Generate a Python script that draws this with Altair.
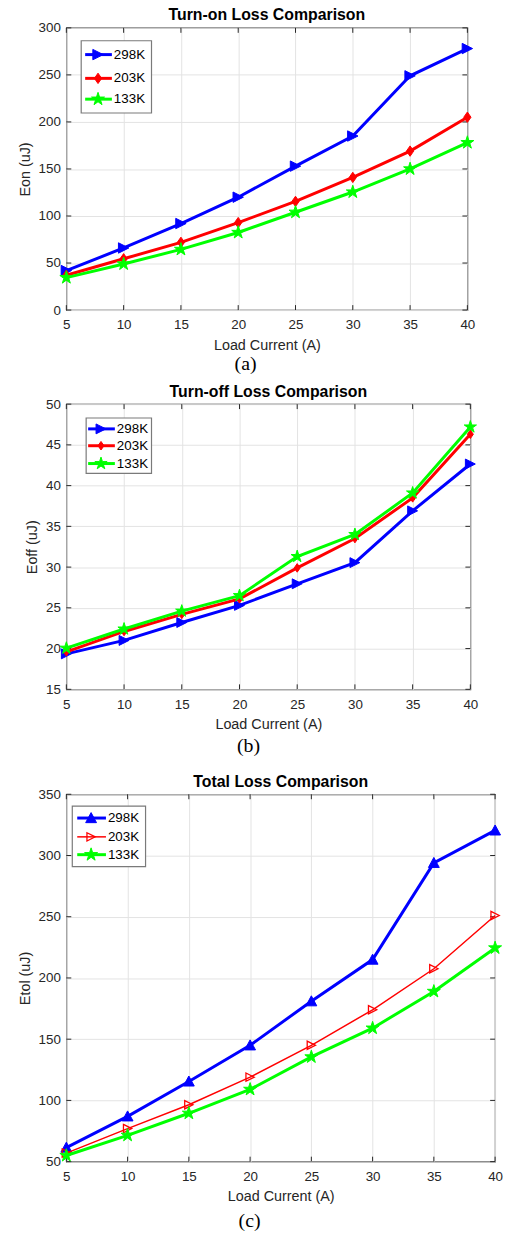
import altair as alt
import pandas as pd

# ---------------- data ----------------
current = [5, 10, 15, 20, 25, 30, 35, 40]
series_names = ["298K", "203K", "133K"]

eon_298 = [42, 66, 92, 120, 153, 185, 249, 278]
eon_203 = [37, 54.5, 72, 93, 115.5, 141, 169, 205]
eon_133 = [34.5, 49, 64.5, 82.5, 104, 125.5, 150, 178]

eoff_298 = [19.35, 21.0, 23.2, 25.3, 27.95, 30.55, 36.9, 42.65]
eoff_203 = [19.6, 22.1, 24.2, 26.1, 29.9, 33.5, 38.5, 46.3]
eoff_133 = [20.05, 22.4, 24.6, 26.5, 31.3, 34.0, 39.1, 47.2]

etol_298 = [61.5, 87, 115.5, 145, 181, 215, 294, 320.5]
etol_203 = [57, 77, 96.5, 119, 145, 174, 207.5, 251]
etol_133 = [55, 71.5, 89.5, 109, 135.5, 159, 189, 224.5]

x_ticks = [5, 10, 15, 20, 25, 30, 35, 40]
eon_ticks = [0, 50, 100, 150, 200, 250, 300]
eoff_ticks = [15, 20, 25, 30, 35, 40, 45, 50]
etol_ticks = [50, 100, 150, 200, 250, 300, 350]

# ---------------- styles ----------------
FONT = "Liberation Sans"
DARK = "#262626"
BLUE, RED, GREEN = "#0000FF", "#FF0000", "#00FF00"

TRI_RIGHT = "M-1,-1L1,0L-1,1Z"
TRI_UP = "M0,-1L1,0.85L-1,0.85Z"
DIAMOND = "M0,-1L0.7,0L0,1L-0.7,0Z"
STAR = ("M0,-1L0.2245,-0.309L0.951,-0.309L0.363,0.118L0.588,0.809L0,0.382"
        "L-0.588,0.809L-0.363,0.118L-0.951,-0.309L-0.2245,-0.309Z")

ONE = pd.DataFrame({"d": [0]})


def make_panel(cfg):
    w, h = cfg["w"], cfg["h"]
    xscale = alt.Scale(domain=[5, 40], nice=False, zero=False)
    yscale = alt.Scale(domain=[cfg["ymin"], cfg["ymax"]], nice=False, zero=False)
    common = dict(grid=True, gridColor="#e3e3e3", gridWidth=1, ticks=False,
                  tickSize=0, domain=False, labelFont=FONT, labelFontSize=13.5,
                  labelColor=DARK, titleFont=FONT, titleFontSize=14.5,
                  titleFontWeight="normal", titleColor=DARK, labelFlush=False)
    xaxis = alt.Axis(values=x_ticks, title="Load Current (A)",
                     labelPadding=8, titlePadding=7, **common)
    yaxis = alt.Axis(values=cfg["yticks"], title=cfg["ytitle"],
                     labelPadding=6, titlePadding=6, **common)
    X = alt.X("current:Q", scale=xscale, axis=xaxis)
    Y = alt.Y("value:Q", scale=yscale, axis=yaxis)

    layers = []
    # invisible extent rule (controls layout box below/left of the plot)
    layers.append(alt.Chart(ONE).mark_rule(opacity=0, strokeWidth=0.01).encode(
        x=alt.value(-cfg["left"]), x2=alt.value(w),
        y=alt.value(0), y2=alt.value(h + cfg["bottom"])))

    # inward ticks (MATLAB style)
    ydf = pd.DataFrame({"value": cfg["yticks"]})
    xdf = pd.DataFrame({"current": x_ticks})
    layers.append(alt.Chart(ydf).mark_rule(color=DARK, strokeWidth=1).encode(
        y=Y, x=alt.value(0), x2=alt.value(5)))
    layers.append(alt.Chart(ydf).mark_rule(color=DARK, strokeWidth=1).encode(
        y=Y, x=alt.value(w - 5), x2=alt.value(w)))
    layers.append(alt.Chart(xdf).mark_rule(color=DARK, strokeWidth=1).encode(
        x=X, y=alt.value(h - 5), y2=alt.value(h)))
    layers.append(alt.Chart(xdf).mark_rule(color=DARK, strokeWidth=1).encode(
        x=X, y=alt.value(0), y2=alt.value(5)))

    # data series
    for s in cfg["series"]:
        df = pd.DataFrame({"current": current, "value": s["values"]})
        layers.append(alt.Chart(df).mark_line(color=s["color"],
                                              strokeWidth=s["lw"]).encode(x=X, y=Y))
        if s["filled"]:
            pm = alt.Chart(df).mark_point(shape=s["shape"], size=s["size"],
                                          fill=s["color"], stroke=s["color"],
                                          strokeWidth=1, opacity=1, fillOpacity=1)
        else:
            pm = alt.Chart(df).mark_point(shape=s["shape"], size=s["size"],
                                          filled=False, stroke=s["color"],
                                          strokeWidth=1.3, opacity=1)
        layers.append(pm.encode(x=X, y=Y))

    # legend box
    lg = cfg["legend"]
    layers.append(alt.Chart(ONE).mark_rect(fill="white", stroke="#7a7a7a",
                                           strokeWidth=1.2).encode(
        x=alt.value(lg["box"][0]), x2=alt.value(lg["box"][2]),
        y=alt.value(lg["box"][1]), y2=alt.value(lg["box"][3])))
    for s, ly in zip(cfg["series"], lg["ys"]):
        layers.append(alt.Chart(ONE).mark_rule(color=s["color"],
                                               strokeWidth=s["lw"]).encode(
            x=alt.value(lg["line"][0]), x2=alt.value(lg["line"][1]),
            y=alt.value(ly)))
        if s["filled"]:
            lp = alt.Chart(ONE).mark_point(shape=s["shape"], size=s["size"],
                                           fill=s["color"], stroke=s["color"],
                                           strokeWidth=1, opacity=1, fillOpacity=1)
        else:
            lp = alt.Chart(ONE).mark_point(shape=s["shape"], size=s["size"],
                                           filled=False, stroke=s["color"],
                                           strokeWidth=1.3, opacity=1)
        layers.append(lp.encode(x=alt.value(lg["marker"]), y=alt.value(ly)))
        layers.append(alt.Chart(ONE).mark_text(
            font=FONT, fontSize=13.5, color="black", align="left",
            baseline="middle").encode(
            x=alt.value(lg["text"]), y=alt.value(ly),
            text=alt.value(s["name"])))

    # sub-figure label
    layers.append(alt.Chart(ONE).mark_text(
        font="Liberation Serif", fontSize=20, color="black", align="center",
        baseline="middle").encode(
        x=alt.value(cfg["label_x"]), y=alt.value(cfg["label_y"]),
        text=alt.value(cfg["label"])))

    return alt.layer(*layers).properties(
        width=w, height=h,
        title=alt.TitleParams(text=cfg["title"], font=FONT, fontSize=16,
                              fontWeight="bold", color="black", offset=-2.5,
                              anchor="middle"))


panel_a = make_panel(dict(
    w=405, h=285, left=66, bottom=72,
    ymin=0, ymax=300, yticks=eon_ticks, ytitle="Eon (uJ)",
    title="Turn-on Loss Comparison", label="(a)", label_x=181, label_y=285 + 55,
    legend=dict(box=(15, 13, 86, 86), ys=(27, 51, 72), line=(19, 46),
                marker=32, text=48),
    series=[
        dict(name=series_names[0], values=eon_298, color=BLUE, shape=TRI_RIGHT,
             size=110, lw=3, filled=True),
        dict(name=series_names[1], values=eon_203, color=RED, shape=DIAMOND,
             size=110, lw=3, filled=True),
        dict(name=series_names[2], values=eon_133, color=GREEN, shape=STAR,
             size=190, lw=3, filled=True),
    ]))

panel_b = make_panel(dict(
    w=408, h=288, left=63, bottom=82.5,
    ymin=15, ymax=50, yticks=eoff_ticks, ytitle="Eoff (uJ)",
    title="Turn-off Loss Comparison", label="(b)", label_x=184, label_y=288 + 57,
    legend=dict(box=(20, 14, 86, 70), ys=(25, 42, 60), line=(22, 49),
                marker=35, text=51),
    series=[
        dict(name=series_names[0], values=eoff_298, color=BLUE, shape=TRI_RIGHT,
             size=100, lw=3, filled=True),
        dict(name=series_names[1], values=eoff_203, color=RED, shape=DIAMOND,
             size=75, lw=3, filled=True),
        dict(name=series_names[2], values=eoff_133, color=GREEN, shape=STAR,
             size=170, lw=3, filled=True),
    ]))

panel_c = make_panel(dict(
    w=433, h=371, left=62, bottom=72,
    ymin=50, ymax=350, yticks=etol_ticks, ytitle="Etol (uJ)",
    title="Total Loss Comparison", label="(c)", label_x=185, label_y=371 + 60,
    legend=dict(box=(6, 12, 80, 73), ys=(24, 43, 61), line=(11, 40),
                marker=25, text=42),
    series=[
        dict(name=series_names[0], values=etol_298, color=BLUE, shape=TRI_UP,
             size=120, lw=3, filled=True),
        dict(name=series_names[1], values=etol_203, color=RED, shape=TRI_RIGHT,
             size=70, lw=1.5, filled=False),
        dict(name=series_names[2], values=etol_133, color=GREEN, shape=STAR,
             size=190, lw=3, filled=True),
    ]))

chart = alt.vconcat(panel_a, panel_b, panel_c, spacing=0).properties(
    padding={"top": 0, "left": 0, "right": 0, "bottom": 0}, background="white"
).configure_view(stroke=DARK, strokeWidth=1.2)

chart.save("out.html", embed_options={"renderer": "svg", "actions": False})
